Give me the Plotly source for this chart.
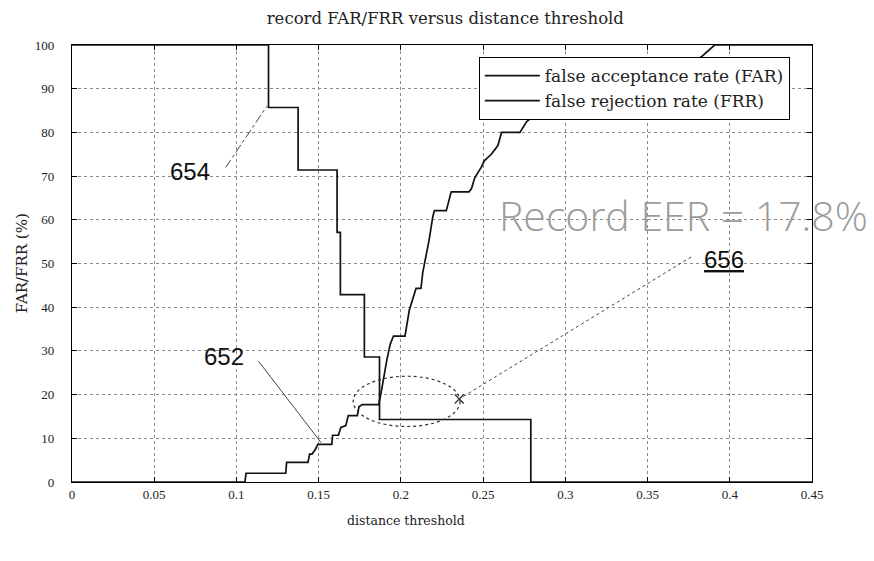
import plotly.graph_objects as go

# ---- data (distance threshold, rate %) ----
far_threshold = [0.0, 0.1052, 0.1058, 0.130, 0.1305, 0.1435, 0.1445, 0.146, 0.148, 0.1495,
                 0.158, 0.1585, 0.162, 0.1635, 0.1665, 0.168, 0.1735, 0.1745, 0.1765, 0.1865,
                 0.188, 0.1895, 0.1915, 0.1935, 0.1955, 0.2025, 0.2047, 0.2051, 0.2092,
                 0.2122, 0.2133, 0.2163, 0.2173, 0.2194, 0.2204, 0.2276, 0.2286, 0.2306,
                 0.2414, 0.2429, 0.2449, 0.249, 0.2507, 0.255, 0.259, 0.2612, 0.2724,
                 0.2735, 0.2765, 0.2827, 0.2867, 0.29, 0.30, 0.31, 0.325, 0.34, 0.355,
                 0.37, 0.38, 0.3827, 0.3908, 0.45]
far_rate = [0.0, 0.0, 2.0, 2.0, 4.5, 4.5, 6.4, 6.4, 7.5, 8.6,
            8.6, 10.7, 10.7, 12.5, 12.9, 15.2, 15.2, 17.2, 17.7, 17.7,
            20.5, 24.0, 28.0, 31.5, 33.4, 33.4, 37.9, 39.3, 44.3,
            44.3, 47.9, 53.6, 55.7, 60.7, 62.1, 62.1, 63.6, 66.4,
            66.4, 67.1, 69.6, 72.1, 73.5, 75.0, 77.0, 80.0, 80.0,
            80.7, 82.5, 84.3, 85.0, 86.5, 88.0, 89.5, 91.0, 92.5, 94.0,
            95.5, 96.6, 97.3, 100.0, 100.0]

frr_threshold = [0.0, 0.1195, 0.1375, 0.1612, 0.1632, 0.1778, 0.1870, 0.2790, 0.45]
frr_rate = [100.0, 85.7, 71.4, 57.1, 42.9, 28.6, 14.3, 0.0, 0.0]

x_ticks = [0, 0.05, 0.1, 0.15, 0.2, 0.25, 0.3, 0.35, 0.4, 0.45]
x_tick_labels = ["0", "0.05", "0.1", "0.15", "0.2", "0.25", "0.3", "0.35", "0.4", "0.45"]
y_ticks = [0, 10, 20, 30, 40, 50, 60, 70, 80, 90, 100]
y_tick_labels = [str(v) for v in y_ticks]

# callouts (data coordinates)
eer_text = "Record EER = 17.8%"
eer_pos = (0.2585, 61.0)
ellipse_box = (0.171, 12.7, 0.236, 24.2)   # x0, y0, x1, y1
label_654 = ("654", 0.0718, 71.0, 0.0935, 72.0, 0.1185, 86.0)
label_652 = ("652", 0.0925, 28.8, 0.1135, 27.6, 0.1515, 9.0)
label_656 = ("<u>656</u>", 0.3965, 51.0, 0.3765, 51.5, 0.2355, 19.0)

serif = "DejaVu Serif"
tick_serif = "Liberation Serif"

fig = go.Figure()
fig.add_trace(go.Scatter(x=far_threshold, y=far_rate, mode="lines",
                         name="false acceptance rate (FAR)",
                         line=dict(color="#111111", width=1.7)))
fig.add_trace(go.Scatter(x=frr_threshold, y=frr_rate, mode="lines",
                         name="false rejection rate (FRR)",
                         line=dict(color="#111111", width=1.7, shape="hv")))

# ellipse around EER region
fig.add_shape(type="circle", xref="x", yref="y",
              x0=ellipse_box[0], y0=ellipse_box[1], x1=ellipse_box[2], y1=ellipse_box[3],
              line=dict(color="#333333", width=1.2, dash="dot"))

# leader lines
for lab, dash in ((label_654, "dashdot"), (label_652, "solid"), (label_656, "dot")):
    fig.add_shape(type="line", xref="x", yref="y",
                  x0=lab[3], y0=lab[4], x1=lab[5], y1=lab[6],
                  line=dict(color="#444444", width=1, dash=dash))
    fig.add_annotation(x=lab[1], y=lab[2], xref="x", yref="y", text=lab[0],
                       showarrow=False, font=dict(family="Liberation Sans", size=24, color="#111111"))

fig.add_trace(go.Scatter(x=[label_656[5]], y=[label_656[6]], mode="markers", showlegend=False,
                         marker=dict(symbol="x-thin", size=9, line=dict(color="#333333", width=1.2))))

fig.add_annotation(x=eer_pos[0], y=eer_pos[1], xref="x", yref="y", text=eer_text,
                   showarrow=False, xanchor="left",
                   font=dict(family="Open Sans", size=41, color="#9c9c9c", weight=300))

# axis titles as annotations
fig.add_annotation(x=0.203, y=0, xref="x", yref="paper", yshift=-38, text="distance threshold",
                   showarrow=False, yanchor="middle",
                   font=dict(family=serif, size=12.5, color="#222"))
fig.add_annotation(x=-0.068, y=0.5, xref="paper", yref="paper", text="FAR/FRR (%)",
                   showarrow=False, textangle=-90, xanchor="center", yanchor="middle",
                   font=dict(family=serif, size=15, color="#222"))

axis_common = dict(showline=True, linecolor="black", linewidth=1.2, mirror="ticks",
                   ticks="inside", ticklen=5, tickcolor="black",
                   showgrid=True, gridcolor="#8a8a8a", griddash="dot", gridwidth=1,
                   zeroline=False, tickfont=dict(family=tick_serif, size=13, color="#222"))

fig.update_xaxes(range=[0, 0.45], tickvals=x_ticks, ticktext=x_tick_labels, **axis_common)
fig.update_yaxes(range=[0, 100], tickvals=y_ticks, ticktext=y_tick_labels,
                 ticklabelstandoff=14, **axis_common)

fig.update_layout(
    width=866, height=553,
    margin=dict(l=64, r=62, t=37, b=79),
    paper_bgcolor="white", plot_bgcolor="white",
    title=dict(text="record FAR/FRR versus distance threshold", x=0.505, xanchor="center",
               y=1 - 10 / 553, yanchor="middle", yref="container",
               font=dict(family=serif, size=16.5, color="#222")),
    legend=dict(x=0.97, xanchor="right", y=0.9725, yanchor="top",
                bgcolor="white", bordercolor="black", borderwidth=1,
                font=dict(family=serif, size=17, color="#222"),
                tracegroupgap=0, itemwidth=55),
    showlegend=True,
)

fig.write_html("out.html")
